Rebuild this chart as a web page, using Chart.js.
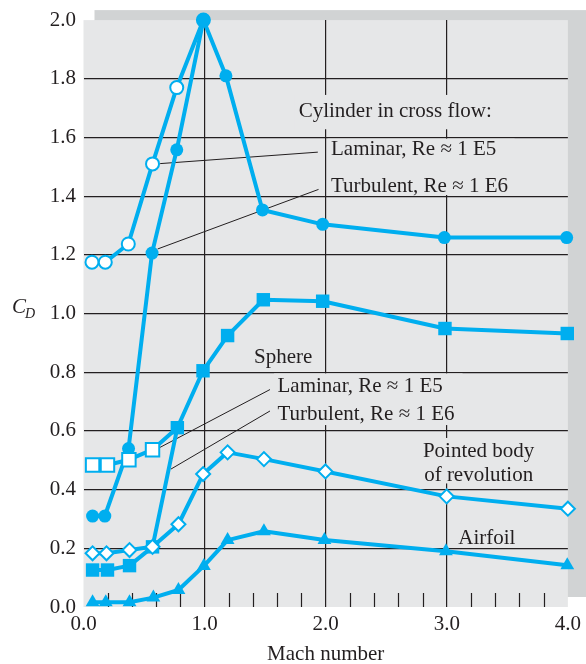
<!DOCTYPE html>
<html>
<head>
<meta charset="utf-8">
<script src="https://cdn.jsdelivr.net/npm/chart.js@4.4.0/dist/chart.umd.min.js"></script>
<style>
  html, body { margin: 0; padding: 0; background: #fff; }
  #wrap { width: 586px; height: 664px; }
</style>
</head>
<body>
<div id="wrap"><canvas id="cdChart" width="586" height="664"></canvas></div>
<script>
// Drag coefficient vs Mach number
const cylLamMach = [0.07, 0.18, 0.37, 0.57, 0.77, 0.99];
const cylLamCd   = [1.175, 1.175, 1.237, 1.51, 1.77, 2.0];

const cylTurbMach = [0.075, 0.176, 0.372, 0.566, 0.77, 0.99, 1.176, 1.478, 1.975, 2.98, 3.99];
const cylTurbCd   = [0.31, 0.31, 0.54, 1.206, 1.558, 2.0, 1.81, 1.353, 1.304, 1.259, 1.259];

const sphLamMach = [0.075, 0.198, 0.375, 0.57, 0.775];
const sphLamCd   = [0.484, 0.484, 0.502, 0.536, 0.611];

const sphTurbMach = [0.075, 0.198, 0.38, 0.57, 0.775, 0.987, 1.19, 1.485, 1.975, 2.985, 3.995];
const sphTurbCd   = [0.126, 0.126, 0.141, 0.205, 0.611, 0.805, 0.925, 1.047, 1.042, 0.949, 0.932];

const pointedMach = [0.075, 0.19, 0.38, 0.57, 0.784, 0.988, 1.19, 1.49, 1.998, 2.999, 4.0];
const pointedCd   = [0.183, 0.183, 0.194, 0.205, 0.282, 0.453, 0.527, 0.504, 0.462, 0.377, 0.335];

const airfoilMach = [0.075, 0.184, 0.38, 0.577, 0.784, 0.994, 1.19, 1.49, 1.99, 2.993, 3.995];
const airfoilCd   = [0.016, 0.016, 0.016, 0.032, 0.058, 0.14, 0.228, 0.258, 0.228, 0.19, 0.142];

// axis ticks
const xTicks = [0, 1, 2, 3, 4];
const yTicks = [0, 0.2, 0.4, 0.6, 0.8, 1.0, 1.2, 1.4, 1.6, 1.8, 2.0];

// text notes on the plot (left edge, baseline) in data units
const noteText = ['Cylinder in cross flow:', 'Laminar, Re \u2248 1 E5', 'Turbulent, Re \u2248 1 E6',
                  'Sphere', 'Laminar, Re \u2248 1 E5', 'Turbulent, Re \u2248 1 E6',
                  'Pointed body', 'of revolution', 'Airfoil'];
const noteMach = [1.777, 2.044, 2.044, 1.409, 1.602, 1.602, 2.803, 2.813, 3.095];
const noteCd   = [1.670, 1.540, 1.415, 0.830, 0.733, 0.637, 0.512, 0.428, 0.215];

// leader lines from the curves to the notes
const leaderFrom = [[0.633, 1.511], [0.612, 1.22], [0.632, 0.544], [0.722, 0.47]];
const leaderTo   = [[1.935, 1.55], [1.941, 1.423], [1.54, 0.741], [1.54, 0.668]];

// patches that hide grid lines behind the notes [x0, x1, y0, y1]
const noteMasks = [[1.74, 3.40, 1.628, 1.745], [2.02, 3.56, 1.404, 1.596],
                   [1.574, 3.13, 0.62, 0.796], [2.785, 3.73, 0.421, 0.576]];

const serif = "'Liberation Serif', 'Times New Roman', serif";
const ink = '#231f20';
const cyan = '#00aeef';
const plotBg = '#e6e7e8';

function pts(xs, ys) {
    return xs.map((x, i) => ({ x: x, y: ys[i] }));
}

function series(xs, ys, style, radius, open) {
    return {
        data: pts(xs, ys),
        borderColor: cyan,
        borderWidth: 4,
        borderJoinStyle: 'round',
        tension: 0,
        pointStyle: style,
        pointRadius: radius,
        pointBorderWidth: open ? 2 : 0,
        pointBorderColor: cyan,
        pointBackgroundColor: open ? '#ffffff' : cyan,
        clip: false
    };
}

// Shadowed grey plot panel
const backdrop = {
    id: 'backdrop',
    beforeDraw(chart) {
        const { ctx, chartArea: a } = chart;
        ctx.save();
        ctx.fillStyle = '#d1d3d4';
        ctx.fillRect(a.left + 11, a.top - 10, a.width + 14, a.height);
        ctx.fillStyle = plotBg;
        ctx.fillRect(a.left, a.top, a.width, a.height);
        ctx.restore();
    }
};

// Notes, leaders, minor ticks and axis titles
const notes = {
    id: 'notes',
    beforeDatasetsDraw(chart) {
        const { ctx, chartArea: a, scales } = chart;
        const sx = v => scales.x.getPixelForValue(v);
        const sy = v => scales.y.getPixelForValue(v);
        ctx.save();

        ctx.fillStyle = plotBg;
        noteMasks.forEach(m => {
            ctx.fillRect(sx(m[0]), sy(m[3]), sx(m[1]) - sx(m[0]), sy(m[2]) - sy(m[3]));
        });

        ctx.strokeStyle = ink;
        ctx.lineWidth = 1.2;
        for (let i = 1; i < 20; i++) {
            if (i % 5 === 0) continue;
            const px = Math.round(sx(i / 5)) + 0.5;
            ctx.beginPath();
            ctx.moveTo(px, a.bottom);
            ctx.lineTo(px, a.bottom - 14);
            ctx.stroke();
        }

        ctx.lineWidth = 1;
        leaderFrom.forEach((p, i) => {
            ctx.beginPath();
            ctx.moveTo(sx(p[0]), sy(p[1]));
            ctx.lineTo(sx(leaderTo[i][0]), sy(leaderTo[i][1]));
            ctx.stroke();
        });

        ctx.fillStyle = ink;
        ctx.font = '21px ' + serif;
        ctx.textAlign = 'left';
        ctx.textBaseline = 'alphabetic';
        noteText.forEach((t, i) => {
            ctx.fillText(t, sx(noteMach[i]), sy(noteCd[i]));
        });

        ctx.textAlign = 'center';
        ctx.fillText('Mach number', (a.left + a.right) / 2, 660);

        ctx.textAlign = 'left';
        ctx.font = 'italic 21px ' + serif;
        ctx.fillText('C', 12, 313);
        ctx.font = 'italic 14px ' + serif;
        ctx.fillText('D', 25, 318);
        ctx.restore();
    }
};

const ctx = document.getElementById('cdChart').getContext('2d');

new Chart(ctx, {
    type: 'line',
    data: {
        datasets: [
            series(pointedMach, pointedCd, 'rectRot', 7, true),
            series(sphTurbMach, sphTurbCd, 'rect', 9.5, false),
            Object.assign(series(sphLamMach, sphLamCd, 'rect', [9.5, 9.5, 9.5, 9.5, 0], true)),
            series(cylTurbMach, cylTurbCd, 'circle', 6.5, false),
            series(cylLamMach, cylLamCd, 'circle', 6.5, true),
            series(airfoilMach, airfoilCd, 'triangle', 8, false)
        ]
    },
    options: {
        responsive: false,
        animation: false,
        layout: { padding: { top: 16, right: 14, left: 0, bottom: 0 } },
        plugins: {
            legend: { display: false },
            tooltip: { enabled: false }
        },
        scales: {
            x: {
                type: 'linear',
                min: 0,
                max: 4,
                afterBuildTicks: s => { s.ticks = xTicks.map(v => ({ value: v })); },
                afterFit: s => { s.height = 57; },
                border: { display: false },
                grid: {
                    drawTicks: false,
                    lineWidth: 1.2,
                    color: c => (c.tick && c.tick.value > 0.01 && c.tick.value < 3.99) ? ink : 'rgba(0,0,0,0)'
                },
                ticks: {
                    padding: 5,
                    color: ink,
                    font: { family: serif, size: 21 },
                    callback: v => Number(v).toFixed(1)
                }
            },
            y: {
                type: 'linear',
                min: 0,
                max: 2,
                afterBuildTicks: s => { s.ticks = yTicks.map(v => ({ value: v })); },
                afterFit: s => { s.width = 83.5; },
                border: { display: false },
                grid: {
                    drawTicks: false,
                    lineWidth: 1.2,
                    color: c => (c.tick && c.tick.value > 0.01 && c.tick.value < 1.99) ? ink : 'rgba(0,0,0,0)'
                },
                ticks: {
                    padding: 7.5,
                    color: ink,
                    font: { family: serif, size: 21 },
                    callback: v => Number(v).toFixed(1)
                }
            }
        }
    },
    plugins: [backdrop, notes]
});
</script>
</body>
</html>
